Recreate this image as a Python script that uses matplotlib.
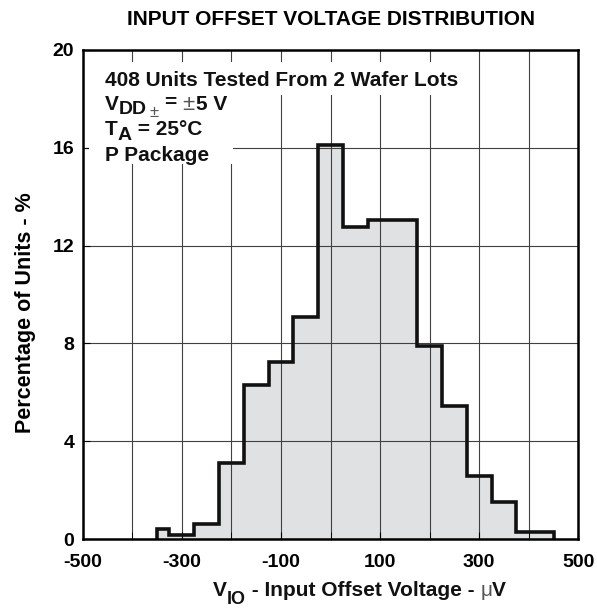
import matplotlib.pyplot as plt
from matplotlib.patches import Rectangle

plt.rcParams['font.family'] = 'Liberation Sans'
plt.rcParams['font.weight'] = 'bold'
plt.rcParams['axes.unicode_minus'] = False

W, H = 597, 608

# bin edges (uV) and percentage of units per bin
bin_edges = [-350, -325, -275, -225, -175, -125, -75, -25, 25, 75, 175, 225, 275, 325, 375, 450]
percent = [0.4, 0.15, 0.62, 3.1, 6.3, 7.25, 9.08, 16.12, 12.75, 13.06, 7.88, 5.43, 2.58, 1.5, 0.29]

x_ticks = [-500, -300, -100, 100, 300, 500]
y_ticks = [0, 4, 8, 12, 16, 20]


def fx(px):
    return px / W


def fy(py):
    return 1 - py / H


def text_width(fig, s, size, weight):
    # measure advance incl. leading/trailing spaces using bars as guards
    r = fig.canvas.get_renderer()
    a = fig.text(0, 0, '|' + s + '|', fontsize=size, fontweight=weight)
    b = fig.text(0, 0, '||', fontsize=size, fontweight=weight)
    w = a.get_window_extent(r).width - b.get_window_extent(r).width
    a.remove()
    b.remove()
    return w


def text_runs(fig, x, y, runs):
    # runs: (text, drop px, size, color, weight, gap px after); x, y: px from top-left, baseline
    cur = x
    for s, drop, size, color, weight, gap in runs:
        fig.text(fx(cur), fy(y + drop), s, fontsize=size, color=color,
                 fontweight=weight, ha='left', va='baseline', zorder=6)
        cur += text_width(fig, s, size, weight) + gap


fig = plt.figure(figsize=(W / 100, H / 100), dpi=100)
ax = fig.add_axes([fx(82.7), fy(539), fx(578.3) - fx(82.7), fy(50) - fy(539)])

ax.stairs(percent, bin_edges, fill=True, color='#e0e1e3', zorder=1)
ax.stairs(percent, bin_edges, fill=False, color='#111111', linewidth=2.6, zorder=3)

ax.set_xlim(-500, 500)
ax.set_ylim(0, 20)
ax.set_xticks(x_ticks)
ax.set_xticks(range(-400, 500, 100), minor=True)
ax.set_yticks(y_ticks)
ax.grid(True, which='both', color='#404040', linewidth=0.8, zorder=2)
ax.set_axisbelow(False)
ax.tick_params(axis='both', which='both', direction='in', length=5, labelsize=14)
ax.tick_params(axis='x', pad=11)
ax.tick_params(axis='y', pad=6)
for s in ax.spines.values():
    s.set_linewidth(1.8)
    s.set_zorder(4)

# white areas behind the legend text
fig.add_artist(Rectangle((fx(89), fy(95)), fx(460) - fx(89), fy(62) - fy(95),
                         transform=fig.transFigure, facecolor='white', edgecolor='none', zorder=5))
fig.add_artist(Rectangle((fx(89), fy(164)), fx(233) - fx(89), fy(95) - fy(164),
                         transform=fig.transFigure, facecolor='white', edgecolor='none', zorder=5))

k, g = '#111111', '#555555'
text_runs(fig, 105, 86, [('408 Units Tested From 2 Wafer Lots', 0, 15, k, 'bold', 0)])
text_runs(fig, 105, 110, [('V', 0, 15, k, 'bold', 0), ('DD', 4, 14, k, 'bold', 3),
                          ('±', 7, 12, g, 'normal', 5), ('=', -2, 15, k, 'bold', 6),
                          ('±', 0, 16, g, 'normal', 1), ('5 V', 0, 15, k, 'bold', 0)])
text_runs(fig, 105, 135, [('T', 0, 15, k, 'bold', 0), ('A', 5, 14, k, 'bold', 0),
                          (' = 25°C', 0, 15, k, 'bold', 0)])
text_runs(fig, 105, 161, [('P Package', 0, 15, k, 'bold', 0)])

fig.text(fx(331), fy(25), 'INPUT OFFSET VOLTAGE DISTRIBUTION', fontsize=15,
         fontweight='bold', ha='center', va='baseline')
text_runs(fig, 213, 596, [('V', 0, 15, k, 'bold', 0), ('IO', 8, 13, k, 'bold', 0),
                          (' - Input Offset Voltage - ', 0, 15, k, 'bold', 0),
                          ('μ', 0, 15, g, 'normal', 0), ('V', 0, 15, k, 'bold', 0)])
fig.text(fx(25), fy(313), 'Percentage of Units - %', fontsize=15.5, fontweight='bold',
         rotation=90, ha='center', va='center')

fig.savefig('out.png', dpi=100)
